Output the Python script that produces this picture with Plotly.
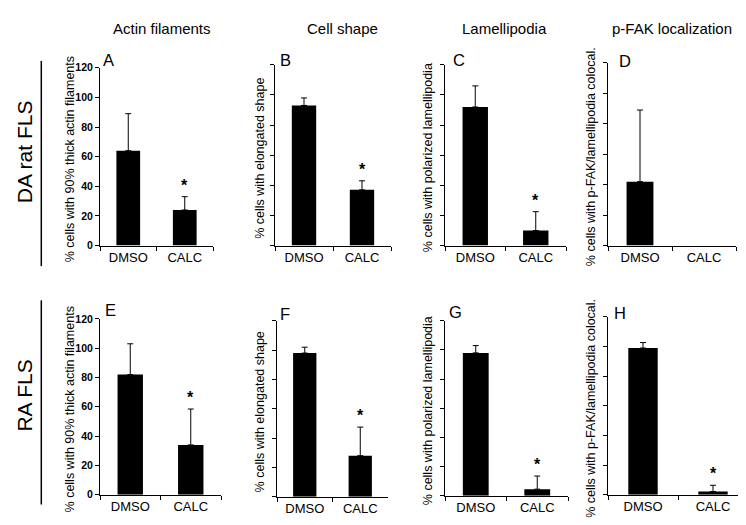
import plotly.graph_objects as go

FONT = "Liberation Sans, Arial, sans-serif"

categories = ["DMSO", "CALC"]

col_titles = ["Actin filaments", "Cell shape", "Lamellipodia", "p-FAK localization"]
row_labels = ["DA rat FLS", "RA FLS"]
panel_letters = ["A", "B", "C", "D", "E", "F", "G", "H"]

y_titles = [
    "% cells with 90% thick actin filaments",
    "% cells with elongated shape",
    "% cells with polarized lamellipodia",
    "% cells with p-FAK/lamellipodia colocal.",
]

# mean values (DMSO, CALC) per panel
vals_A = [64, 24]
vals_B = [93, 37]
vals_C = [92, 10]
vals_D = [42, 0]
vals_E = [82, 34]
vals_F = [98, 28]
vals_G = [98, 4.5]
vals_H = [99, 2.2]

# upper error (SD) per panel; None = no error bar drawn
err_A = [25, 9]
err_B = [5, 6]
err_C = [14, 12.5]
err_D = [47, None]
err_E = [21, 24.5]
err_F = [4, 19.5]
err_G = [5, 9]
err_H = [3.7, 4.2]

# significance mark on CALC
sig_A = [False, True]
sig_B = [False, True]
sig_C = [False, True]
sig_D = [False, False]
sig_E = [False, True]
sig_F = [False, True]
sig_G = [False, True]
sig_H = [False, True]

y_range = [0, 120]
y_dtick = 20

values = [vals_A, vals_B, vals_C, vals_D, vals_E, vals_F, vals_G, vals_H]
errors = [err_A, err_B, err_C, err_D, err_E, err_F, err_G, err_H]
sigs = [sig_A, sig_B, sig_C, sig_D, sig_E, sig_F, sig_G, sig_H]

W, H = 746, 525
# panel boxes in pixels: x0, x1, ytop, ybottom
boxes = [
    (92, 205, 55, 237), (267, 383, 52, 237), (437, 558, 52, 237), (600, 728, 50, 237),
    (92, 213, 312, 492), (269, 380, 314, 494), (437, 560, 314, 493), (600, 740, 310, 492),
]
title_x = [61.7, 251.7, 420, 583]
letter_pos = [(100, 47), (277, 47), (451, 47), (617, 48),
              (102, 303), (277, 307), (448, 305), (612, 306)]

def px(x):
    return x / W

def py(y):
    return 1 - y / H

fig = go.Figure()
annotations = []
shapes = []

for i in range(8):
    ax = "" if i == 0 else str(i + 1)
    x0, x1, yt, yb = boxes[i]
    fig.add_trace(go.Bar(
        x=categories, y=values[i],
        marker=dict(color="black", line=dict(width=0)),
        width=0.42,
        xaxis="x" + ax, yaxis="y" + ax, showlegend=False, hoverinfo="skip",
    ))
    # error bars (upper only) for points that have one
    idx = [j for j in range(len(categories)) if errors[i][j] is not None]
    fig.add_trace(go.Scatter(
        x=[categories[j] for j in idx], y=[values[i][j] for j in idx],
        mode="markers", marker=dict(size=1, opacity=0),
        error_y=dict(type="data", array=[errors[i][j] for j in idx], arrayminus=[0] * len(idx),
                     symmetric=False, color="black", thickness=1, width=3),
        xaxis="x" + ax, yaxis="y" + ax, showlegend=False, hoverinfo="skip",
    ))
    show_labels = (i % 4 == 0)
    fig.update_layout({
        "xaxis" + ax: dict(domain=[px(x0), px(x1)], anchor="y" + ax, type="category",
                           categoryorder="array", categoryarray=categories,
                           tickson="boundaries", ticks="outside", ticklen=4, tickcolor="black",
                           showline=True, linecolor="black", linewidth=1, showgrid=False,
                           tickfont=dict(family=FONT, size=13, color="black"), fixedrange=True),
        "yaxis" + ax: dict(domain=[py(yb), py(yt)], anchor="x" + ax, range=y_range, dtick=y_dtick,
                           ticks="outside", ticklen=4, tickcolor="black", showline=True,
                           linecolor="black", linewidth=1, showgrid=False, zeroline=False,
                           showticklabels=show_labels,
                           tickfont=dict(family=FONT, size=10.5, color="black", weight="bold"),
                           fixedrange=True),
    })
    # significance stars
    for j, c in enumerate(categories):
        if sigs[i][j]:
            top = values[i][j] + (errors[i][j] or 0)
            annotations.append(dict(x=c, y=top, xref="x" + ax, yref="y" + ax,
                                    text="<b>*</b>", showarrow=False, yanchor="bottom", yshift=1,
                                    font=dict(family=FONT, size=16, color="black")))
    # panel letter
    lx, ly = letter_pos[i]
    annotations.append(dict(x=px(lx), y=py(ly), xref="paper", yref="paper", text=panel_letters[i],
                            showarrow=False, xanchor="center", yanchor="middle",
                            font=dict(family=FONT, size=16.5, color="black")))
    # y-axis title
    annotations.append(dict(x=px(title_x[i % 4]), y=py((yt + yb) / 2 + 3), xref="paper", yref="paper",
                            text=y_titles[i % 4], textangle=-90, showarrow=False,
                            xanchor="center", yanchor="middle",
                            font=dict(family=FONT, size=12.5, color="black")))

# column titles
for k, (t, cx) in enumerate(zip(col_titles, [154, 334, 496, 664])):
    annotations.append(dict(x=px(cx), y=py(15), xref="paper", yref="paper", text=t, showarrow=False,
                            xanchor="center", yanchor="middle",
                            font=dict(family=FONT, size=15, color="black")))

# row labels and separator lines
for t, cy, (l0, l1) in zip(row_labels, [141, 391], [(48, 258), (293, 502)]):
    annotations.append(dict(x=px(16.5), y=py(cy), xref="paper", yref="paper", text=t, textangle=-90,
                            showarrow=False, xanchor="center", yanchor="middle",
                            font=dict(family=FONT, size=21, color="black")))
    shapes.append(dict(type="line", xref="paper", yref="paper", x0=px(33.3), x1=px(33.3),
                       y0=py(l0), y1=py(l1), line=dict(color="black", width=1.5)))

fig.update_layout(
    width=W, height=H, margin=dict(l=0, r=0, t=0, b=0),
    paper_bgcolor="white", plot_bgcolor="white",
    font=dict(family=FONT, color="black"),
    annotations=annotations, shapes=shapes, bargap=0.5,
)

fig.write_html("out.html")
